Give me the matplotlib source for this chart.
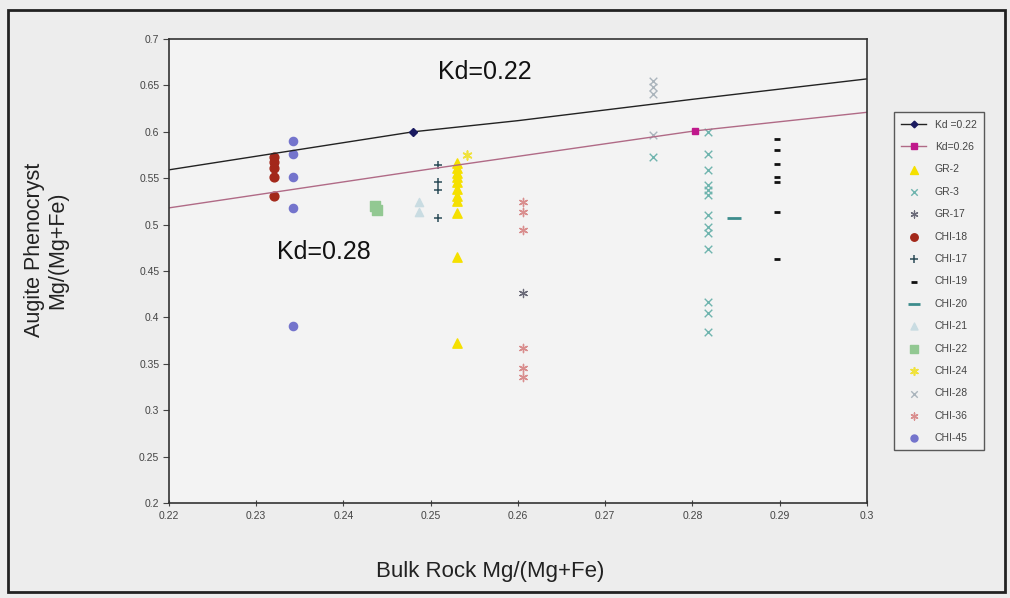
import matplotlib.pyplot as plt
from matplotlib.patches import Rectangle

plt.rcParams['font.family'] = ['Liberation Sans', 'DejaVu Sans']

# reference lines
kd22_x = [0.22, 0.248, 0.26, 0.28, 0.30]
kd22_y = [0.559, 0.600, 0.612, 0.635, 0.657]
kd26_x = [0.22, 0.25, 0.2803, 0.30]
kd26_y = [0.518, 0.560, 0.601, 0.621]

# samples
gr2_x = [0.253] * 11
gr2_y = [0.566, 0.561, 0.556, 0.551, 0.546, 0.538, 0.531, 0.525, 0.512, 0.465, 0.372]
gr3_x = [0.2818] * 13 + [0.2755]
gr3_y = [0.600, 0.576, 0.559, 0.543, 0.537, 0.532, 0.510, 0.497, 0.491, 0.474,
         0.417, 0.405, 0.384, 0.573]
gr17_x = [0.2606]
gr17_y = [0.426]
chi18_x = [0.232] * 5
chi18_y = [0.573, 0.567, 0.561, 0.551, 0.531]
chi17_x = [0.2508] * 4
chi17_y = [0.564, 0.546, 0.537, 0.507]
chi19_x = [0.2897] * 7
chi19_y = [0.592, 0.580, 0.565, 0.551, 0.546, 0.514, 0.463]
chi20_x = [0.2848]
chi20_y = [0.507]
chi21_x = [0.2487, 0.2487]
chi21_y = [0.524, 0.514]
chi22_x = [0.2436, 0.2438]
chi22_y = [0.520, 0.516]
chi24_x = [0.2542]
chi24_y = [0.575]
chi28_x = [0.2755] * 4
chi28_y = [0.655, 0.648, 0.641, 0.597]
chi36_x = [0.2606] * 6
chi36_y = [0.524, 0.514, 0.494, 0.367, 0.345, 0.336]
chi45_x = [0.2342] * 5
chi45_y = [0.590, 0.576, 0.551, 0.518, 0.391]

xticks = [0.22, 0.23, 0.24, 0.25, 0.26, 0.27, 0.28, 0.29, 0.3]
yticks = [0.2, 0.25, 0.3, 0.35, 0.4, 0.45, 0.5, 0.55, 0.6, 0.65, 0.7]

fig = plt.figure(figsize=(10.1, 5.98), dpi=100, facecolor='#ededed')
ax = fig.add_axes([0.1673, 0.1589, 0.6911, 0.7759], facecolor='#f3f3f3')

ax.plot(kd22_x, kd22_y, color='#222222', lw=1.0, marker='D', ms=4,
        mfc='#1a1a60', mec='#1a1a60', markevery=[1], label='Kd =0.22')
ax.plot(kd26_x, kd26_y, color='#b06a86', lw=1.0, marker='s', ms=5,
        mfc='#c0188c', mec='#c0188c', markevery=[2], label='Kd=0.26')

ax.scatter(gr2_x, gr2_y, marker='^', s=45, color='#f5e000', label='GR-2')
ax.scatter(gr3_x, gr3_y, marker='x', s=30, color='#6fb4ae', lw=1.0, label='GR-3')
ax.scatter(gr17_x, gr17_y, marker=(6, 2, 0), s=35, color='#6a6a78', lw=0.9, label='GR-17')
ax.scatter(chi18_x, chi18_y, marker='o', s=40, color='#a3281a', label='CHI-18')
ax.scatter(chi17_x, chi17_y, marker='+', s=40, color='#2c4c58', lw=1.1, label='CHI-17')
ax.scatter(chi19_x, chi19_y, marker='_', s=25, color='#111111', lw=2.0, label='CHI-19')
ax.scatter(chi20_x, chi20_y, marker='_', s=90, color='#3d8c8c', lw=2.0, label='CHI-20')
ax.scatter(chi21_x, chi21_y, marker='^', s=35, color='#c9dce2', label='CHI-21')
ax.scatter(chi22_x, chi22_y, marker='s', s=45, color='#92c892', label='CHI-22')
ax.scatter(chi24_x, chi24_y, marker=(6, 2, 0), s=40, color='#f0e23c', lw=1.2, label='CHI-24')
ax.scatter(chi28_x, chi28_y, marker='x', s=30, color='#aab4bc', lw=1.0, label='CHI-28')
ax.scatter(chi36_x, chi36_y, marker=(6, 2, 0), s=35, color='#d98e8e', lw=1.0, label='CHI-36')
ax.scatter(chi45_x, chi45_y, marker='o', s=35, color='#7474cc', label='CHI-45')

ax.text(0.2562, 0.6645, 'Kd=0.22', fontsize=18, ha='center', va='center', color='#111111')
ax.text(0.2377, 0.470, 'Kd=0.28', fontsize=18, ha='center', va='center', color='#111111')

ax.set_xlim(0.22, 0.3)
ax.set_ylim(0.2, 0.7)
ax.set_xticks(xticks)
ax.set_xticklabels([f'{t:g}' for t in xticks])
ax.set_yticks(yticks)
ax.set_yticklabels([f'{t:g}' for t in yticks])
ax.tick_params(axis='x', direction='inout', length=5, labelsize=7.5, colors='#444444', pad=3)
ax.tick_params(axis='y', direction='out', length=4, labelsize=7.5, colors='#444444', pad=3)
for s in ax.spines.values():
    s.set_color('#333333')
    s.set_linewidth(1.2)

fig.text(46 / 1010, 1 - 250 / 598, 'Augite Phenocryst\nMg/(Mg+Fe)', rotation=90,
         ha='center', va='center', fontsize=15.5, color='#222222', linespacing=1.15)
fig.text(490 / 1010, 1 - 571 / 598, 'Bulk Rock Mg/(Mg+Fe)', ha='center', va='center',
         fontsize=16, color='#222222')

leg = ax.legend(loc='upper left', bbox_to_anchor=(0.880, 0.821), bbox_transform=fig.transFigure,
                fontsize=7.5, frameon=True, fancybox=False, edgecolor='#333333',
                facecolor='#f3f3f3', labelspacing=1.19, handlelength=2.4,
                handletextpad=0.8, borderpad=0.7, scatterpoints=1, markerscale=0.85)
leg.get_frame().set_linewidth(1.0)
for t in leg.get_texts():
    t.set_color('#444444')

fig.patches.append(Rectangle((8 / 1010, 6 / 598), 997 / 1010, 582 / 598, fill=False,
                             edgecolor='#222222', lw=2, transform=fig.transFigure))

fig.savefig('out.png', dpi=100, facecolor=fig.get_facecolor())
